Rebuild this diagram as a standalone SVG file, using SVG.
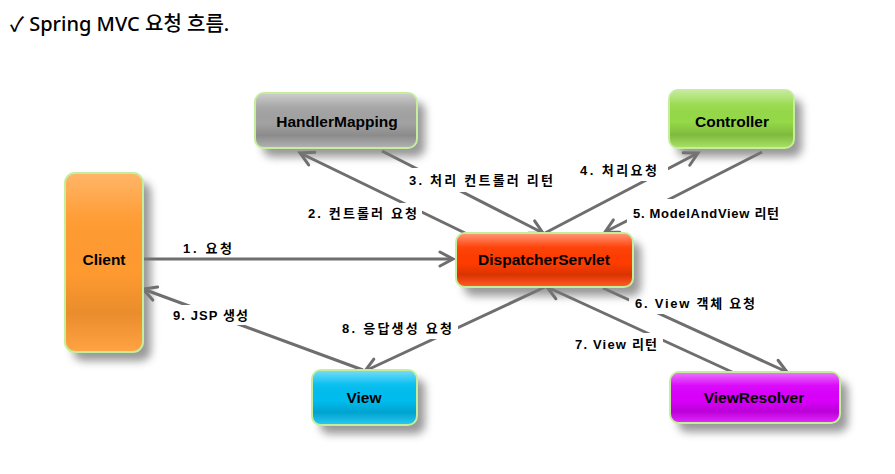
<svg xmlns="http://www.w3.org/2000/svg" width="895" height="474" viewBox="0 0 895 474">
<defs>
<style>
.title{font-family:"Noto Sans","Noto Sans CJK KR",sans-serif;font-size:20px;font-weight:500;fill:#000;}
.nt{font-family:"Liberation Sans","Noto Sans CJK KR",sans-serif;font-size:15.5px;font-weight:bold;fill:#000;text-anchor:middle;}
.lt{font-family:"Liberation Sans","Noto Sans CJK KR",sans-serif;font-size:13px;font-weight:bold;fill:#000;}
.bg{fill:#fff;}
.edge{stroke:#6e6e6e;stroke-width:3;fill:none;marker-end:url(#arr);}
.shadow{fill:#777;opacity:0.75;filter:url(#blur);}
.box{stroke:#c4ee9c;stroke-width:2;}
.gloss{fill:url(#gloss);}
</style>
<filter id="blur" x="-30%" y="-30%" width="160%" height="160%">
<feGaussianBlur stdDeviation="4.5"/>
</filter>
<linearGradient id="gloss" x1="0" y1="0" x2="0" y2="1">
<stop offset="0" stop-color="#fff" stop-opacity="0.45"/>
<stop offset="0.25" stop-color="#fff" stop-opacity="0.05"/>
<stop offset="0.55" stop-color="#000" stop-opacity="0"/>
<stop offset="0.78" stop-color="#000" stop-opacity="0.14"/>
<stop offset="1" stop-color="#fff" stop-opacity="0.15"/>
</linearGradient>
<marker id="arr" markerUnits="userSpaceOnUse" markerWidth="20" markerHeight="20" viewBox="-16 -10 20 20" refX="0" refY="0" orient="auto">
<path d="M-13,-7 L0,0 L-13,7" fill="none" stroke="#6e6e6e" stroke-width="3" stroke-linecap="round" stroke-linejoin="miter"/>
</marker>
</defs>
<rect width="895" height="474" fill="#fff"/>
<text class="title" x="10" y="31">✓ Spring MVC 요청 흐름.</text>

<g id="connectors">
<path class="edge" d="M143,259 L453,259"/>
<path class="edge" d="M465,233 L300,153"/>
<path class="edge" d="M382,151 L543,233"/>
<path class="edge" d="M545,233 L698,153"/>
<path class="edge" d="M762,152 L605,232"/>
<path class="edge" d="M603,288 L787,372"/>
<path class="edge" d="M732,372 L547,287"/>
<path class="edge" d="M545,287 L365,371"/>
<path class="edge" d="M363,370 L143,289"/>
<g id="edge-labels">
<rect class="bg" x="179" y="238" width="58" height="19"/>
<text class="lt" x="183" y="253" textLength="49" lengthAdjust="spacing">1. 요청</text>
<rect class="bg" x="304" y="203" width="118" height="20"/>
<text class="lt" x="308" y="218" textLength="109" lengthAdjust="spacing">2. 컨트롤러 요청</text>
<rect class="bg" x="403" y="168" width="160" height="24"/>
<text class="lt" x="409" y="185" textLength="144" lengthAdjust="spacing">3. 처리 컨트롤러 리턴</text>
<rect class="bg" x="576" y="159" width="92" height="22"/>
<text class="lt" x="580" y="175" textLength="77" lengthAdjust="spacing">4. 처리요청</text>
<rect class="bg" x="627" y="199" width="158" height="24"/>
<text class="lt" x="633" y="218" textLength="146" lengthAdjust="spacing">5. ModelAndView 리턴</text>
<rect class="bg" x="629" y="292" width="132" height="22"/>
<text class="lt" x="635" y="308" textLength="120" lengthAdjust="spacing">6. View 객체 요청</text>
<rect class="bg" x="569" y="333" width="94" height="22"/>
<text class="lt" x="575" y="349" textLength="82" lengthAdjust="spacing">7. View 리턴</text>
<rect class="bg" x="336" y="317" width="122" height="22"/>
<text class="lt" x="342" y="333" textLength="110" lengthAdjust="spacing">8. 응답생성 요청</text>
<rect class="bg" x="168" y="305" width="86" height="20"/>
<text class="lt" x="173" y="320" textLength="75" lengthAdjust="spacing">9. JSP 생성</text>
</g>
</g>

<g id="HandlerMapping">
<rect class="shadow" x="263" y="102" width="162" height="55" rx="9"/>
<rect class="box" x="255" y="93" width="162" height="55" rx="9" fill="#a2a2a2"/>
<rect class="gloss" x="256" y="94" width="160" height="53" rx="8"/>
<text class="nt" x="337" y="127">HandlerMapping</text>
</g>
<g id="Controller">
<rect class="shadow" x="677" y="99" width="125" height="58" rx="9"/>
<rect class="box" x="669" y="90" width="125" height="58" rx="9" fill="#95d948"/>
<rect class="gloss" x="670" y="91" width="123" height="56" rx="8"/>
<text class="nt" x="732" y="127">Controller</text>
</g>
<g id="Client">
<rect class="shadow" x="73" y="182" width="78" height="179" rx="10"/>
<rect class="box" x="65" y="173" width="78" height="179" rx="10" fill="#ff9a30"/>
<rect class="gloss" x="66" y="174" width="76" height="177" rx="9" opacity="0.6"/>
<text class="nt" x="104" y="265">Client</text>
</g>
<g id="DispatcherServlet">
<rect class="shadow" x="464" y="242" width="177" height="54" rx="9"/>
<rect class="box" x="456" y="233" width="177" height="54" rx="9" fill="#ff3c00"/>
<rect class="gloss" x="457" y="234" width="175" height="52" rx="8"/>
<text class="nt" x="544" y="265">DispatcherServlet</text>
</g>
<g id="View">
<rect class="shadow" x="320" y="379" width="105" height="55" rx="9"/>
<rect class="box" x="312" y="370" width="105" height="55" rx="9" fill="#00bdf0"/>
<rect class="gloss" x="313" y="371" width="103" height="53" rx="8"/>
<text class="nt" x="364" y="403">View</text>
</g>
<g id="ViewResolver">
<rect class="shadow" x="678" y="381" width="170" height="51" rx="9"/>
<rect class="box" x="670" y="372" width="170" height="51" rx="9" fill="#da00fb"/>
<rect class="gloss" x="671" y="373" width="168" height="49" rx="8"/>
<text class="nt" x="754" y="403">ViewResolver</text>
</g>
</svg>
